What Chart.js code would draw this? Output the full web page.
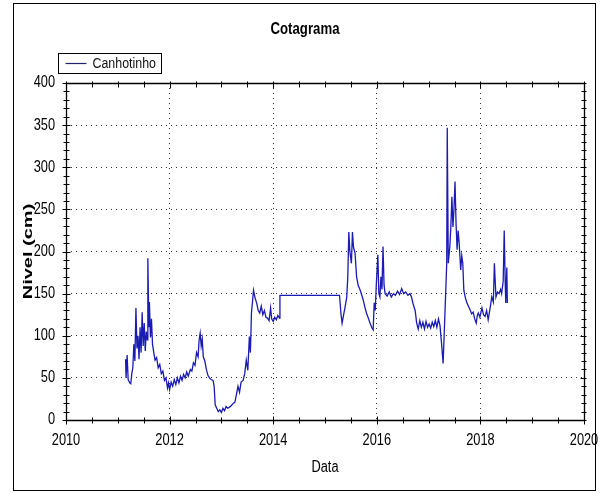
<!DOCTYPE html>
<html>
<head>
<meta charset="utf-8">
<title>Cotagrama</title>
<script src="https://cdn.jsdelivr.net/npm/chart.js@4/dist/chart.umd.min.js"></script>
<style>
  html, body { margin: 0; padding: 0; background: #ffffff; }
  #wrap { width: 603px; height: 493px; }
</style>
</head>
<body>
<div id="wrap"><canvas id="cota" width="603" height="493"></canvas></div>
<script>
// Station and axis labels
const stationName = 'Canhotinho';
const chartTitle = 'Cotagrama';
const xTitle = 'Data';
const yTitle = 'Nivel (cm)';

// Tick values
const xTicks = [2010, 2012, 2014, 2016, 2018, 2020];
const yTicks = [0, 50, 100, 150, 200, 250, 300, 350, 400];

// Observation dates (decimal years) and stage readings (cm)
const dates = [
  2011.15, 2011.16, 2011.18, 2011.20, 2011.23, 2011.25, 2011.27, 2011.29, 2011.31, 2011.33,
  2011.35, 2011.37, 2011.39, 2011.41, 2011.43, 2011.45, 2011.47, 2011.49, 2011.51, 2011.53,
  2011.55, 2011.57, 2011.58, 2011.60, 2011.61, 2011.63, 2011.65, 2011.67, 2011.70, 2011.72,
  2011.75, 2011.78, 2011.81, 2011.84, 2011.87, 2011.90, 2011.93, 2011.96, 2011.98, 2012.00,
  2012.03, 2012.06, 2012.09, 2012.12, 2012.15, 2012.18, 2012.21, 2012.24, 2012.27, 2012.30,
  2012.33, 2012.36, 2012.40, 2012.43, 2012.46, 2012.49, 2012.52, 2012.55, 2012.57, 2012.59,
  2012.61, 2012.63, 2012.65, 2012.68, 2012.71, 2012.74, 2012.77, 2012.80, 2012.84, 2012.86,
  2012.88, 2012.91, 2012.94, 2012.97, 2013.00, 2013.03, 2013.06, 2013.09, 2013.12, 2013.15,
  2013.19, 2013.23, 2013.26, 2013.29, 2013.32, 2013.35, 2013.38, 2013.42, 2013.45, 2013.48,
  2013.51, 2013.54, 2013.56, 2013.58, 2013.60, 2013.62, 2013.65, 2013.68, 2013.71, 2013.74,
  2013.77, 2013.80, 2013.83, 2013.86, 2013.89, 2013.92, 2013.95, 2013.97, 2014.00, 2014.03,
  2014.06, 2014.09, 2014.12, 2014.13, 2015.28, 2015.31, 2015.33, 2015.36, 2015.39, 2015.42,
  2015.44, 2015.46, 2015.48, 2015.51, 2015.53, 2015.55, 2015.58, 2015.61, 2015.64, 2015.68,
  2015.71, 2015.74, 2015.77, 2015.80, 2015.83, 2015.87, 2015.90, 2015.93, 2015.95, 2015.97,
  2015.99, 2016.02, 2016.04, 2016.06, 2016.08, 2016.10, 2016.12, 2016.14, 2016.16, 2016.20,
  2016.24, 2016.28, 2016.32, 2016.36, 2016.40, 2016.44, 2016.48, 2016.52, 2016.56, 2016.60,
  2016.64, 2016.67, 2016.70, 2016.74, 2016.77, 2016.80, 2016.83, 2016.86, 2016.89, 2016.92,
  2016.95, 2016.98, 2017.01, 2017.04, 2017.07, 2017.10, 2017.13, 2017.16, 2017.19, 2017.22,
  2017.25, 2017.28, 2017.30, 2017.32, 2017.35, 2017.36, 2017.38, 2017.41, 2017.43, 2017.45,
  2017.47, 2017.49, 2017.51, 2017.53, 2017.55, 2017.57, 2017.59, 2017.62, 2017.64, 2017.66,
  2017.68, 2017.71, 2017.74, 2017.77, 2017.80, 2017.83, 2017.86, 2017.89, 2017.92, 2017.94,
  2017.96, 2017.99, 2018.03, 2018.06, 2018.09, 2018.12, 2018.15, 2018.19, 2018.22, 2018.25,
  2018.27, 2018.30, 2018.33, 2018.36, 2018.39, 2018.41, 2018.44, 2018.46, 2018.48, 2018.49,
  2018.51, 2018.52
];
const levels = [
  72, 50, 77, 48, 44, 43, 55, 62, 90, 70,
  133, 85, 100, 72, 110, 80, 128, 88, 115, 82,
  105, 95, 192, 110, 140, 98, 120, 90, 78, 71,
  74, 62, 66, 55, 58, 47, 50, 38, 44, 36,
  45, 40, 48, 42, 50, 44, 52, 47, 54, 50,
  57, 52, 60, 58, 68, 65, 80, 75, 95, 103,
  88, 96, 75, 70, 60, 53, 50, 48, 47, 40,
  18, 14, 10, 12, 9, 14, 11, 16, 14, 15,
  17, 20, 21, 30, 40, 33, 45, 47, 55, 71,
  59, 99, 80, 127, 140, 154, 145, 139, 130, 127,
  135, 125, 130, 122, 121, 118, 133, 120, 117, 122,
  119, 124, 121, 148, 148, 125, 115, 125, 135, 146,
  170, 223, 200, 186, 223, 205, 198, 170, 160, 154,
  148, 142, 134, 127, 122, 115, 110, 107, 139, 130,
  160, 196, 150, 146, 170, 155, 206, 160, 150, 147,
  152, 146, 150, 148, 153, 149, 156, 150, 152, 148,
  150, 146, 138, 130, 115, 108, 118, 110, 116, 108,
  117, 110, 114, 109, 116, 111, 118, 110, 120, 112,
  91, 67, 100, 134, 186, 347, 186, 206, 230, 265,
  229, 250, 283, 233, 202, 225, 210, 178, 195, 186,
  154, 145, 139, 135, 131, 126, 128, 120, 115, 124,
  127, 122, 133, 125, 123, 130, 119, 134, 146, 140,
  186, 146, 152, 150, 155, 150, 165, 225, 160, 139,
  181, 139
];

const FONT = "'Liberation Sans', Arial, sans-serif";
const INK = '#000000';
const LINE_COLOR = '#1a1ab4';
const NARROW = 0.8;          // horizontal squeeze for upright text
const NARROW_ROTATED = 0.68; // squeeze across the baseline for vertical text

// Draw all text condensed (tall, narrow glyphs). Upright strings are
// squeezed in x; rotated strings are squeezed across their baseline.
function useNarrowText(ctx) {
  const fill = ctx.fillText.bind(ctx);
  const measure = ctx.measureText.bind(ctx);
  ctx.fillText = function (text, x, y, maxWidth) {
    const m = ctx.getTransform();
    const rotated = Math.abs(m.b) > 0.5;
    ctx.save();
    ctx.translate(x, y);
    if (rotated) ctx.scale(1, NARROW_ROTATED); else ctx.scale(NARROW, 1);
    if (maxWidth !== undefined && maxWidth !== null) fill(text, 0, 0, maxWidth / NARROW);
    else fill(text, 0, 0);
    ctx.restore();
  };
  ctx.measureText = function (text) {
    const m = measure(text);
    return {
      width: m.width * NARROW,
      actualBoundingBoxAscent: m.actualBoundingBoxAscent,
      actualBoundingBoxDescent: m.actualBoundingBoxDescent,
      actualBoundingBoxLeft: m.actualBoundingBoxLeft * NARROW,
      actualBoundingBoxRight: m.actualBoundingBoxRight * NARROW,
      fontBoundingBoxAscent: m.fontBoundingBoxAscent,
      fontBoundingBoxDescent: m.fontBoundingBoxDescent
    };
  };
}

// White page, outer frame, plot box with minor/major tick marks on all four sides
const framePlugin = {
  id: 'frame',
  beforeDraw(chart) {
    const {ctx, width, height} = chart;
    ctx.save();
    ctx.fillStyle = '#ffffff';
    ctx.fillRect(0, 0, width, height);
    ctx.restore();
  },
  afterDraw(chart) {
    const {ctx, chartArea: a, scales} = chart;
    const xs = scales.x, ys = scales.y;
    ctx.save();
    ctx.strokeStyle = INK;
    ctx.lineWidth = 1;
    // outer frame
    ctx.strokeRect(13.5, 3.5, 582, 487);
    // plot box
    const L = Math.round(a.left) + 0.5, R = Math.round(a.right) + 0.5;
    const T = Math.round(a.top) + 0.5, B = Math.round(a.bottom) + 0.5;
    ctx.lineWidth = 1.3;
    ctx.beginPath();
    ctx.moveTo(L, T); ctx.lineTo(R, T); ctx.lineTo(R, B); ctx.lineTo(L, B); ctx.closePath();
    ctx.stroke();
    ctx.lineWidth = 1;
    ctx.beginPath();
    // x ticks every half year, longer on labelled years
    for (let v = xs.min; v <= xs.max + 1e-9; v += 0.5) {
      const px = Math.round(xs.getPixelForValue(v)) + 0.5;
      const major = xTicks.includes(v);
      const len = major ? 4 : 3;
      ctx.moveTo(px, B - len); ctx.lineTo(px, B + len);
      ctx.moveTo(px, T - 2); ctx.lineTo(px, T + len + 1);
    }
    // y ticks every 10 cm
    for (let v = ys.min; v <= ys.max + 1e-9; v += 10) {
      const py = Math.round(ys.getPixelForValue(v)) + 0.5;
      const major = yTicks.includes(v);
      const len = major ? 4 : 3;
      ctx.moveTo(L - len, py); ctx.lineTo(L + len, py);
      ctx.moveTo(R - len, py); ctx.lineTo(R + 2, py);
    }
    ctx.stroke();
    ctx.restore();
  }
};

// Boxed legend entry in the upper-left corner above the plot
const legendBoxPlugin = {
  id: 'legendBox',
  afterDraw(chart) {
    const ds = chart.data.datasets[0];
    const {ctx} = chart;
    const box = {x: 58.5, y: 53.5, w: 103, h: 20};
    ctx.save();
    ctx.fillStyle = '#ffffff';
    ctx.fillRect(box.x, box.y, box.w, box.h);
    ctx.strokeStyle = INK;
    ctx.lineWidth = 1;
    ctx.strokeRect(box.x, box.y, box.w, box.h);
    const cy = box.y + box.h / 2;
    ctx.strokeStyle = '#22226a';
    ctx.lineWidth = 1.2;
    ctx.beginPath();
    ctx.moveTo(box.x + 7, cy); ctx.lineTo(box.x + 28, cy);
    ctx.stroke();
    ctx.fillStyle = '#111111';
    ctx.font = '15.5px ' + FONT;
    ctx.textBaseline = 'middle';
    ctx.textAlign = 'left';
    ctx.fillText(ds.label, box.x + 34, cy + 0.5);
    ctx.restore();
  }
};

const points = dates.map((d, i) => ({x: d, y: levels[i]}));

const canvas = document.getElementById('cota');
const context = canvas.getContext('2d');
useNarrowText(context);

new Chart(context, {
  type: 'line',
  data: {
    datasets: [{
      label: stationName,
      data: points,
      borderColor: LINE_COLOR,
      backgroundColor: LINE_COLOR,
      borderWidth: 1.3,
      pointRadius: 0,
      tension: 0,
      fill: false
    }]
  },
  options: {
    responsive: false,
    animation: false,
    devicePixelRatio: 1,
    layout: { padding: { left: 26, right: 19, top: 4, bottom: 10 } },
    plugins: {
      legend: { display: false },
      tooltip: { enabled: false },
      title: {
        display: true,
        text: chartTitle,
        color: '#000000',
        font: { family: FONT, size: 16.5, weight: 'bold' },
        padding: { top: 16, bottom: 43.2 }
      }
    },
    scales: {
      x: {
        type: 'linear',
        min: 2010,
        max: 2020,
        afterBuildTicks(scale) { scale.ticks = xTicks.map(v => ({value: v})); },
        afterFit(scale) {
          scale.height = 63;
          scale.paddingLeft = 0;
          scale.paddingRight = 0;
        },
        ticks: {
          autoSkip: false,
          maxRotation: 0,
          padding: 11,
          color: '#000000',
          font: { family: FONT, size: 16 },
          callback: v => String(v)
        },
        grid: { drawTicks: false, color: 'rgba(0,0,0,0.8)', lineWidth: 1 },
        border: { display: false, dash: [1, 4] },
        title: {
          display: true,
          text: xTitle,
          color: '#000000',
          font: { family: FONT, size: 16 },
          padding: { top: 0, bottom: 6 }
        }
      },
      y: {
        type: 'linear',
        min: 0,
        max: 400,
        afterBuildTicks(scale) { scale.ticks = yTicks.map(v => ({value: v})); },
        afterFit(scale) { scale.width = 40; },
        ticks: {
          padding: 11,
          color: '#000000',
          font: { family: FONT, size: 16 },
          callback: v => String(v)
        },
        grid: { drawTicks: false, color: 'rgba(0,0,0,0.8)', lineWidth: 1 },
        border: { display: false, dash: [1, 4] },
        title: {
          display: true,
          text: yTitle,
          color: '#000000',
          font: { family: FONT, size: 20, weight: 'bold' },
          padding: { top: -10, bottom: 0 }
        }
      }
    }
  },
  plugins: [framePlugin, legendBoxPlugin]
});
</script>
</body>
</html>
